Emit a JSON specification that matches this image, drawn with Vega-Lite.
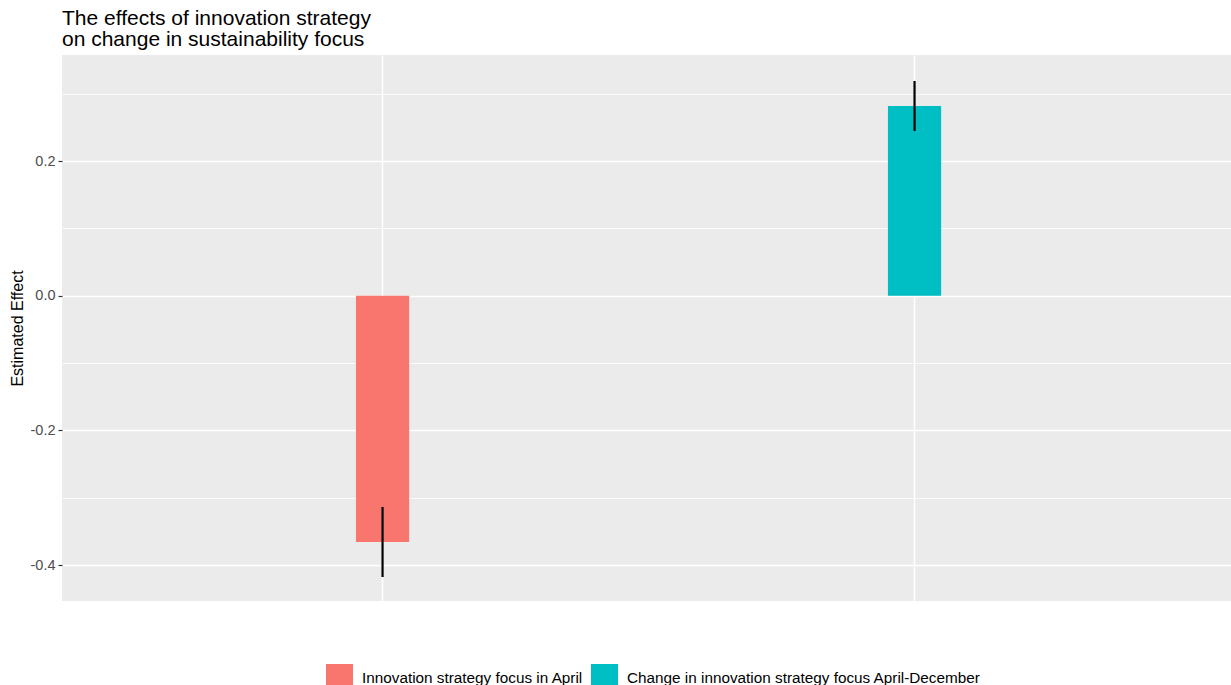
{
  "$schema": "https://vega.github.io/schema/vega-lite/v6.json",
  "width": 1169,
  "height": 546,
  "autosize": {"type": "none"},
  "padding": {"left": 62, "top": 55, "right": 0, "bottom": 84},
  "background": "white",
  "config": {
    "font": "Liberation Sans",
    "view": {"fill": "#EBEBEB", "stroke": null}
  },
  "title": {
    "text": ["The effects of innovation strategy", "on change in sustainability focus"],
    "anchor": "start",
    "frame": "group",
    "fontSize": 21,
    "fontWeight": "normal",
    "color": "#000000",
    "lineHeight": 21,
    "offset": 5
  },
  "data": {
    "values": [
      {"term": "Innovation strategy focus in April", "estimate": -0.3657, "lo": -0.4177, "hi": -0.3137},
      {"term": "Change in innovation strategy focus April-December", "estimate": 0.2818, "lo": 0.2446, "hi": 0.3188}
    ]
  },
  "encoding": {
    "x": {
      "field": "term",
      "type": "nominal",
      "sort": ["Innovation strategy focus in April", "Change in innovation strategy focus April-December"],
      "scale": {"paddingInner": 0.9, "paddingOuter": 0.5487, "align": 0.5035},
      "axis": {
        "title": null,
        "labels": false,
        "ticks": false,
        "domain": false,
        "grid": true,
        "bandPosition": 0.5,
        "gridColor": "#FFFFFF",
        "gridWidth": 1.5
      }
    }
  },
  "layer": [
    {
      "mark": {"type": "bar"},
      "encoding": {
        "y": {
          "field": "estimate",
          "type": "quantitative",
          "scale": {"domain": [-0.4533, 0.3574], "nice": false, "zero": false},
          "axis": {
            "title": "Estimated Effect",
            "titleFontSize": 16,
            "titleFontWeight": "normal",
            "titleColor": "#000000",
            "titlePadding": 5,
            "values": [-0.4, -0.3, -0.2, -0.1, 0, 0.1, 0.2, 0.3],
            "labelExpr": "round(datum.value*10)%2 == 0 ? replace(format(datum.value, '.1f'), '\u2212', '-') : ''",
            "labelFontSize": 14.5,
            "labelColor": "#4D4D4D",
            "labelPadding": 3,
            "tickColor": "#333333",
            "tickSize": 4,
            "tickWidth": 1.2,
            "tickOpacity": {"condition": {"test": "round(datum.value*10)%2 != 0", "value": 0}, "value": 1},
            "domain": false,
            "grid": true,
            "gridColor": "#FFFFFF",
            "gridWidth": {"condition": {"test": "round(datum.value*10)%2 != 0", "value": 0.8}, "value": 1.5}
          }
        },
        "y2": {"datum": 0},
        "color": {
          "field": "term",
          "type": "nominal",
          "scale": {
            "domain": ["Innovation strategy focus in April", "Change in innovation strategy focus April-December"],
            "range": ["#F8766D", "#00BFC4"]
          },
          "legend": {
            "title": null,
            "orient": "none",
            "direction": "horizontal",
            "legendX": 264,
            "legendY": 609,
            "padding": 0,
            "symbolType": "square",
            "symbolSize": 729,
            "symbolStrokeWidth": 0,
            "symbolOpacity": 1,
            "labelFontSize": 15.3,
            "labelColor": "#000000",
            "labelOffset": 9,
            "columnPadding": 7,
            "labelLimit": 500
          }
        }
      }
    },
    {
      "mark": {"type": "rule", "color": "#000000", "strokeWidth": 2.2},
      "encoding": {
        "y": {"field": "lo", "type": "quantitative"},
        "y2": {"field": "hi"}
      }
    }
  ]
}
